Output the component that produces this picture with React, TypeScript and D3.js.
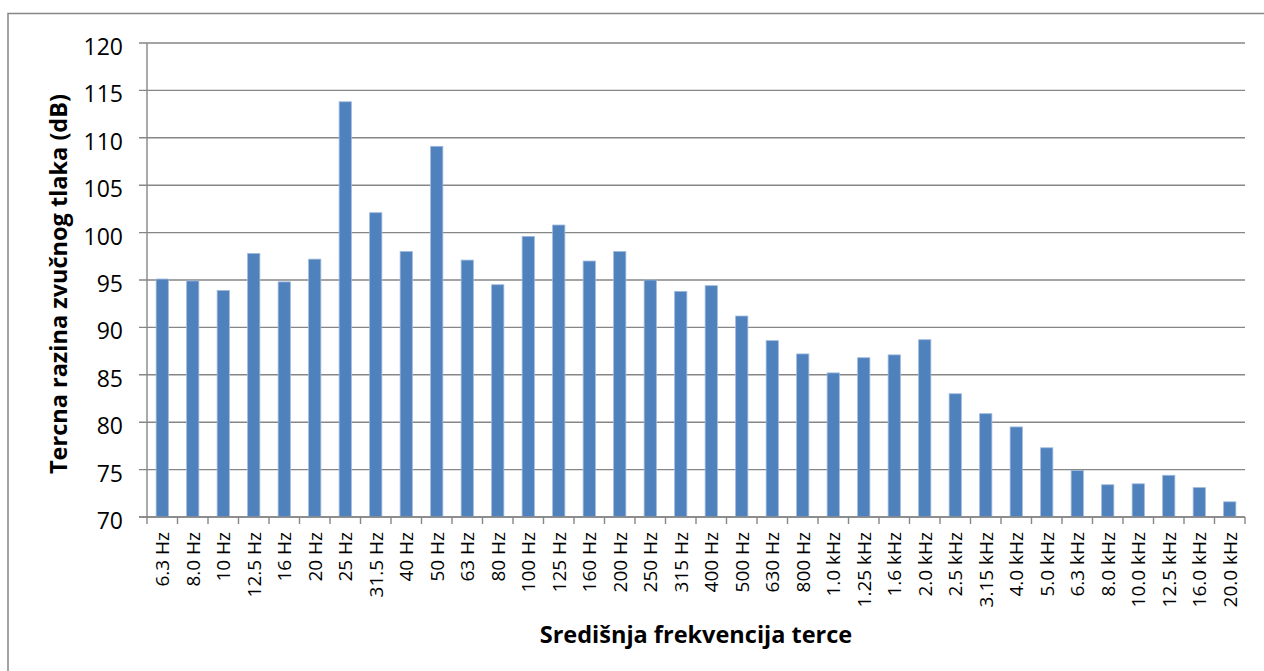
import React from "react";
import * as d3 from "d3";

const categories: string[] = [
  "6.3 Hz", "8.0 Hz", "10 Hz", "12.5 Hz", "16 Hz", "20 Hz", "25 Hz", "31.5 Hz",
  "40 Hz", "50 Hz", "63 Hz", "80 Hz", "100 Hz", "125 Hz", "160 Hz", "200 Hz",
  "250 Hz", "315 Hz", "400 Hz", "500 Hz", "630 Hz", "800 Hz", "1.0 kHz", "1.25 kHz",
  "1.6 kHz", "2.0 kHz", "2.5 kHz", "3.15 kHz", "4.0 kHz", "5.0 kHz", "6.3 kHz",
  "8.0 kHz", "10.0 kHz", "12.5 kHz", "16.0 kHz", "20.0 kHz",
];

const levels: number[] = [
  95.1, 94.9, 93.9, 97.8, 94.8, 97.2, 113.8, 102.1,
  98.0, 109.1, 97.1, 94.5, 99.6, 100.8, 97.0, 98.0,
  95.0, 93.8, 94.4, 91.2, 88.6, 87.2, 85.2, 86.8,
  87.1, 88.7, 83.0, 80.9, 79.5, 77.3, 74.9,
  73.4, 73.5, 74.4, 73.1, 71.6,
];

const yTicks: number[] = [70, 75, 80, 85, 90, 95, 100, 105, 110, 115, 120];

const yTitle = "Tercna razina zvučnog tlaka (dB)";
const xTitle = "Središnja frekvencija terce";

export default function App() {
  const W = 1264;
  const H = 671;
  const left = 147;
  const right = 1245;
  const top = 43;
  const bottom = 517;
  const grey = "#868686";
  const font = "'Open Sans', 'DejaVu Sans', sans-serif";

  const x = d3
    .scaleBand<string>()
    .domain(categories)
    .range([left, right])
    .paddingInner(0.6)
    .paddingOuter(0.3);
  const y = d3.scaleLinear().domain([70, 120]).range([bottom, top]);
  const step = x.step();
  const bounds = d3.range(categories.length + 1).map((i) => left + i * step);

  return (
    <svg
      width={W}
      height={H}
      style={{ position: "absolute", left: 0, top: 0, background: "#fff" }}
    >
      <rect x={0} y={0} width={W} height={H} fill="#fff" />
      <rect x={8} y={13.5} width={1400} height={800} fill="none" stroke={grey} strokeWidth={1.5} />

      {yTicks.map((t) => (
        <g key={t}>
          <line x1={left - 8} x2={right} y1={y(t)} y2={y(t)} stroke={grey} strokeWidth={1.4} />
          <text
            x={123}
            y={y(t) + 3}
            textAnchor="end"
            dominantBaseline="central"
            fontFamily={font}
            fontSize={23}
            fill="#000"
          >
            {t}
          </text>
        </g>
      ))}

      {categories.map((c, i) => (
        <rect
          key={c}
          x={x(c)!}
          y={y(levels[i])}
          width={x.bandwidth()}
          height={bottom - y(levels[i])}
          fill="#4F81BD"
          stroke="#9DB9DD"
          strokeWidth={0.8}
        />
      ))}

      <line x1={left} x2={left} y1={top} y2={bottom} stroke={grey} strokeWidth={1.4} />
      <line x1={left - 8} x2={right} y1={bottom} y2={bottom} stroke={grey} strokeWidth={1.4} />
      {bounds.map((bx, i) => (
        <line key={i} x1={bx} x2={bx} y1={bottom} y2={bottom + 7} stroke={grey} strokeWidth={1.4} />
      ))}

      {categories.map((c) => {
        const cx = x(c)! + x.bandwidth() / 2;
        return (
          <text
            key={c}
            transform={`translate(${cx},532) rotate(-90)`}
            textAnchor="end"
            dominantBaseline="central"
            fontFamily={font}
            fontSize={19}
            fill="#000"
          >
            {c}
          </text>
        );
      })}

      <text
        x={696}
        y={643}
        textAnchor="middle"
        fontFamily={font}
        fontWeight="bold"
        fontSize={23.5}
        fill="#000"
      >
        {xTitle}
      </text>
      <text
        transform={`translate(67,284) rotate(-90)`}
        textAnchor="middle"
        fontFamily={font}
        fontWeight="bold"
        fontSize={23.5}
        fill="#000"
      >
        {yTitle}
      </text>
    </svg>
  );
}
